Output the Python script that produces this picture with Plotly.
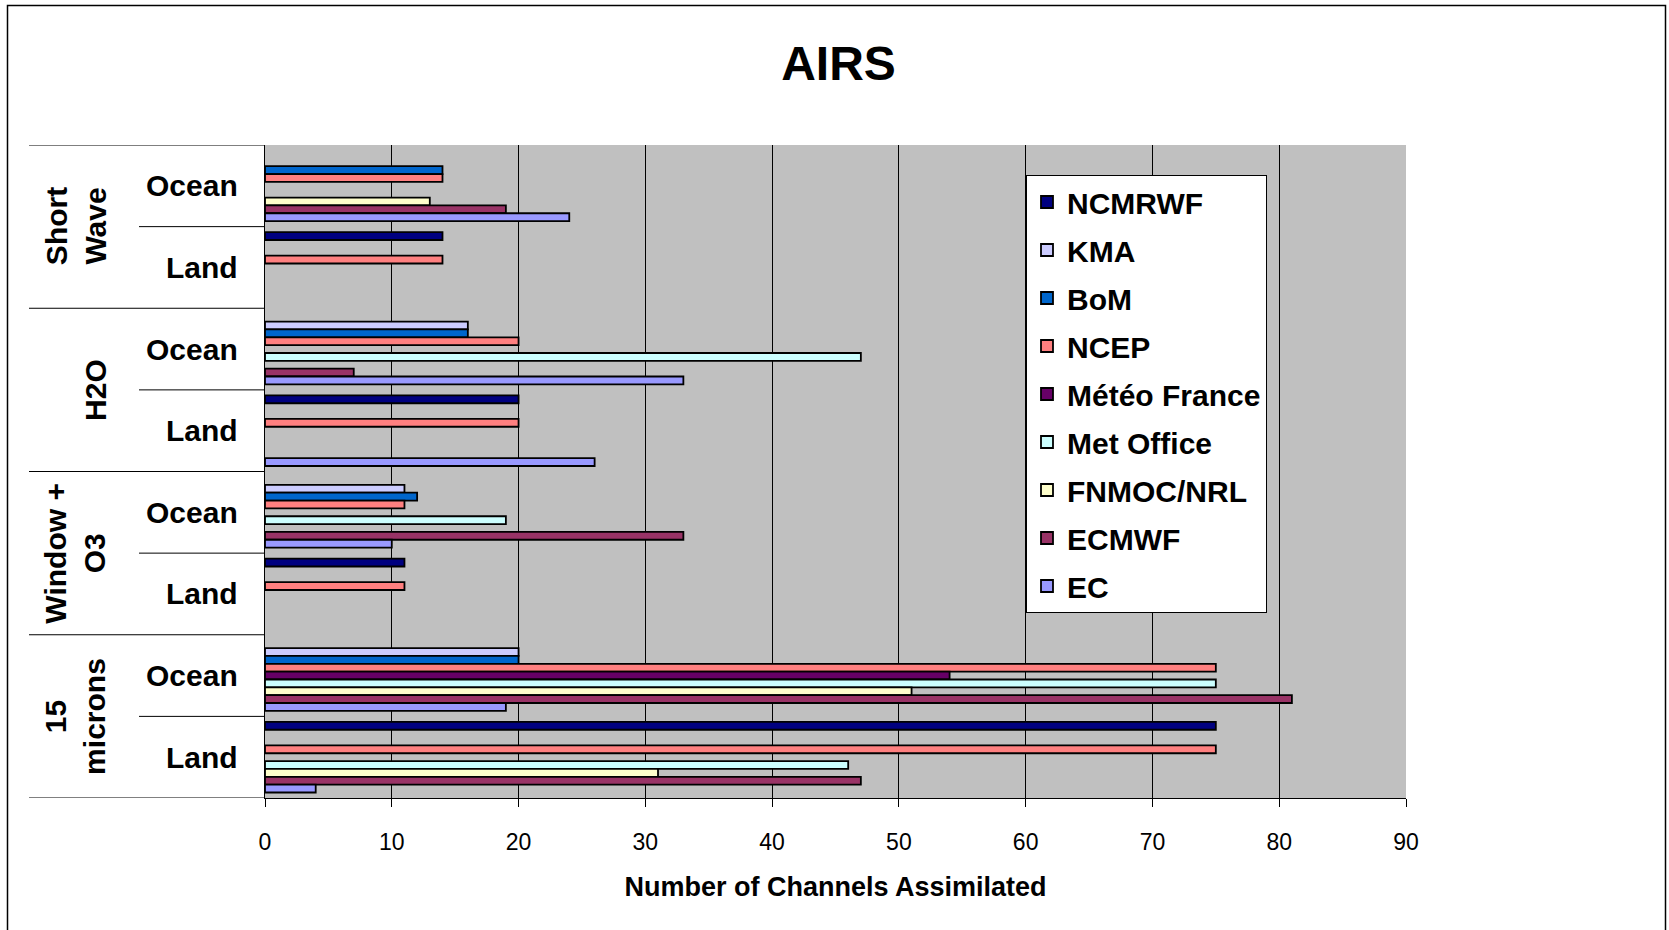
import plotly.graph_objects as go

# Categories, top to bottom
groups = ["Short Wave", "H2O", "Window + O3", "15 microns"]
group_labels = ["Short<br>Wave", "H2O", "Window +<br>O3", "15<br>microns"]
surfaces = ["Ocean", "Land"]
categories = [f"{g} | {s}" for g in groups for s in surfaces]

series_names = ["NCMRWF", "KMA", "BoM", "NCEP", "Météo France",
                "Met Office", "FNMOC/NRL", "ECMWF", "EC"]
series_colors = ["#000080", "#CCCCFF", "#0066CC", "#FF8080", "#660066",
                 "#CCFFFF", "#FFFFCC", "#993366", "#9999FF"]

# values per category (SW Ocean, SW Land, H2O Ocean, H2O Land, Win Ocean, Win Land, 15 Ocean, 15 Land)
ncmrwf = [None, 14, None, 20, None, 11, None, 75]
kma = [None, None, 16, None, 11, None, 20, None]
bom = [14, None, 16, None, 12, None, 20, None]
ncep = [14, 14, 20, 20, 11, 11, 75, 75]
meteo_france = [None, None, None, None, None, None, 54, None]
met_office = [None, None, 47, None, 19, None, 75, 46]
fnmoc_nrl = [13, None, None, None, None, None, 51, 31]
ecmwf = [19, None, 7, None, 33, None, 81, 47]
ec = [24, None, 33, 26, 10, None, 19, 4]
series_values = [ncmrwf, kma, bom, ncep, meteo_france, met_office, fnmoc_nrl, ecmwf, ec]

x_ticks = list(range(0, 91, 10))

FONT = "Arial, Liberation Sans, sans-serif"
W, H = 1669, 930
L, R, T, B = 265, 263, 145, 132
PW = W - L - R
PH = H - T - B


def px_x(p):
    return (p - L) / PW


def px_y(p):
    return (H - B - p) / PH


fig = go.Figure()
for name, color, vals in zip(series_names, series_colors, series_values):
    fig.add_trace(go.Bar(
        y=categories, x=vals, name=name, orientation="h",
        marker=dict(color=color, line=dict(color="black", width=1.8)),
        legendgroup=name,
    ))

annotations = []
shapes = []
# sub-category labels
for c in categories:
    s = c.split(" | ")[1]
    annotations.append(dict(
        x=px_x(240), xref="paper", xanchor="right", y=c, yref="y", yanchor="middle",
        text=f"<b>{s}</b>", showarrow=False, font=dict(family=FONT, size=30, color="black")))
# group labels (rotated)
for i, gl in enumerate(group_labels):
    two = "<br>" in gl
    annotations.append(dict(
        x=px_x(75.5 if two else 96), xref="paper", xanchor="center",
        y=2 * i + 0.5, yref="y", yanchor="middle",
        text=f"<b>{gl}</b>", textangle=-90, showarrow=False,
        font=dict(family=FONT, size=30, color="black")))

# divider lines in the category area
for k in range(0, 5):
    shapes.append(dict(type="line", xref="paper", yref="y", x0=px_x(29), x1=0,
                       y0=2 * k - 0.5, y1=2 * k - 0.5, line=dict(color="black", width=1)))
for k in range(4):
    shapes.append(dict(type="line", xref="paper", yref="y", x0=px_x(139), x1=0,
                       y0=2 * k + 0.5, y1=2 * k + 0.5, line=dict(color="black", width=1)))
# outer chart border
shapes.append(dict(type="rect", xref="paper", yref="paper", x0=px_x(7.5), x1=px_x(1665.5),
                   y0=px_y(945), y1=px_y(5.5), line=dict(color="black", width=1.5),
                   fillcolor="rgba(0,0,0,0)", layer="above"))

fig.update_layout(
    width=W, height=H,
    margin=dict(l=L, r=R, t=T, b=B, pad=0),
    paper_bgcolor="white", plot_bgcolor="#C0C0C0",
    barmode="group", bargap=0.135, bargroupgap=0,
    title=dict(text="AIRS", x=838.5 / W, xanchor="center", y=1 - 62.8 / H, yanchor="middle",
               yref="container", font=dict(family=FONT, size=48, color="black", weight="bold")),
    xaxis=dict(range=[0, 90], tickvals=x_ticks, ticktext=[str(v) for v in x_ticks],
               showgrid=True, gridcolor="black", gridwidth=1,
               showline=True, linecolor="black", linewidth=1,
               ticks="outside", ticklen=8, tickcolor="black", tickwidth=1,
               ticklabelstandoff=15,
               tickfont=dict(family=FONT, size=23, color="black"),
               title=dict(text="Number of Channels Assimilated", standoff=23,
                          font=dict(family=FONT, size=27, color="black", weight="bold")),
               zeroline=False, fixedrange=True),
    yaxis=dict(type="category", categoryorder="array", categoryarray=categories,
               range=[7.5, -0.5], showticklabels=False, ticks="", showgrid=False,
               showline=True, linecolor="black", linewidth=1, zeroline=False, fixedrange=True),
    legend=dict(x=px_x(1026), xanchor="left", y=px_y(175), yanchor="top",
                bgcolor="white", bordercolor="black", borderwidth=1,
                font=dict(family=FONT, size=30, color="black", weight="bold"),
                traceorder="grouped", tracegroupgap=6),
    annotations=annotations, shapes=shapes,
    showlegend=True,
)

fig.write_html("out.html", config={"displayModeBar": False},
               post_script="document.body.style.margin='0';")
